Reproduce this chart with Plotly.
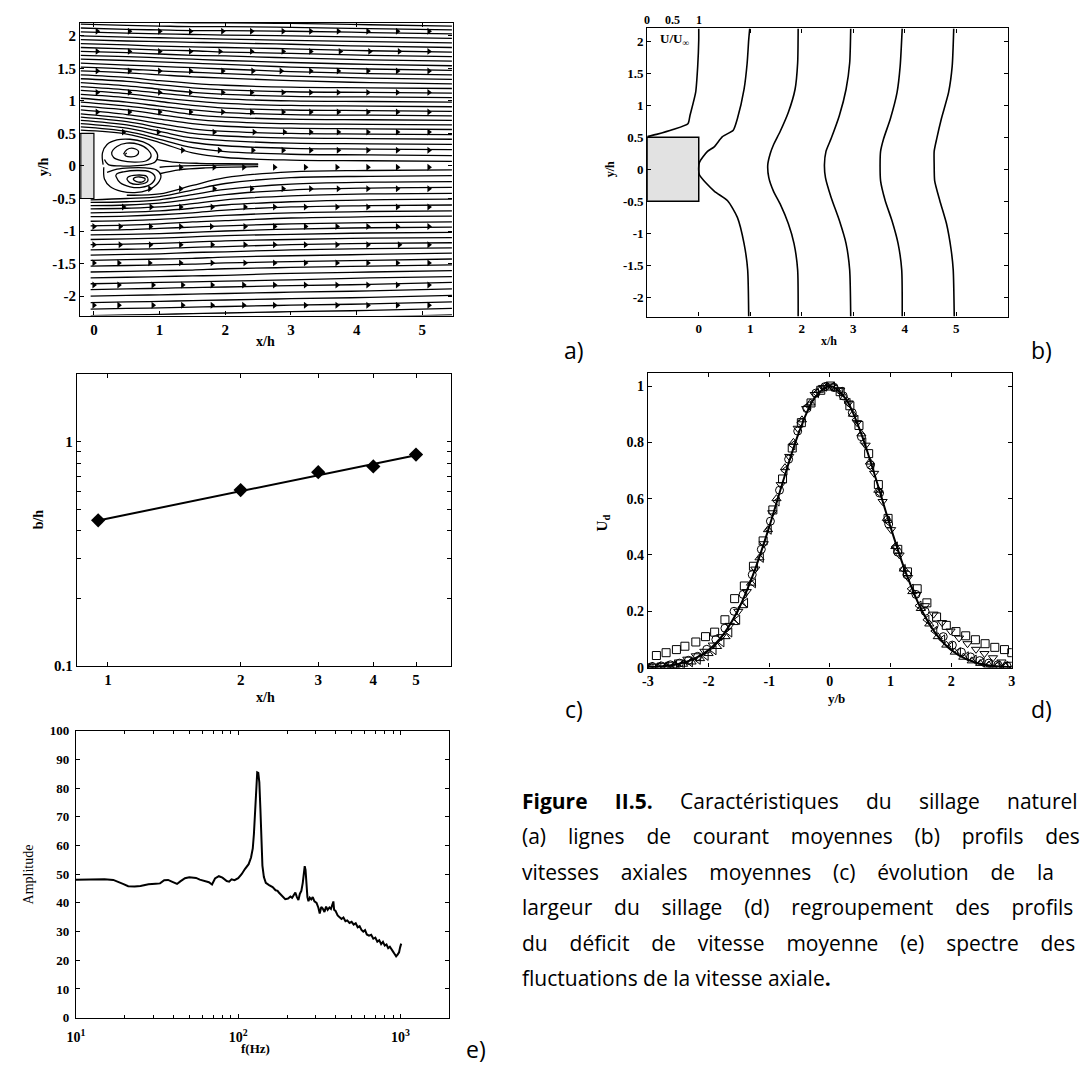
import plotly.graph_objects as go

# ===================== DATA =====================
# ---- panel a : mean streamlines (y/h read at fixed x/h stations) ----
XS_UP = [-0.2, 0.5, 1.0, 1.5, 2.0, 3.0, 4.2, 5.45]
Y_UP = [
    [0.55, 0.49, 0.36, 0.20, 0.13, 0.09, 0.08, 0.07],
    [0.60, 0.53, 0.41, 0.28, 0.22, 0.18, 0.17, 0.16],
    [0.65, 0.58, 0.47, 0.36, 0.31, 0.27, 0.26, 0.25],
    [0.70, 0.63, 0.53, 0.43, 0.39, 0.35, 0.34, 0.33],
    [0.75, 0.68, 0.59, 0.50, 0.46, 0.43, 0.42, 0.41],
    [0.80, 0.73, 0.65, 0.57, 0.53, 0.50, 0.49, 0.48],
    [0.86, 0.79, 0.72, 0.65, 0.61, 0.58, 0.57, 0.56],
    [0.92, 0.86, 0.79, 0.72, 0.68, 0.65, 0.64, 0.63],
    [0.98, 0.92, 0.86, 0.79, 0.75, 0.72, 0.71, 0.70],
    [1.04, 0.98, 0.92, 0.86, 0.82, 0.79, 0.78, 0.77],
    [1.10, 1.05, 0.99, 0.93, 0.89, 0.86, 0.85, 0.84],
    [1.16, 1.11, 1.05, 1.00, 0.96, 0.93, 0.92, 0.91],
    [1.22, 1.17, 1.12, 1.07, 1.03, 1.00, 0.99, 0.98],
    [1.28, 1.23, 1.18, 1.13, 1.10, 1.07, 1.06, 1.05],
    [1.34, 1.30, 1.25, 1.20, 1.17, 1.14, 1.13, 1.12],
    [1.40, 1.36, 1.31, 1.27, 1.24, 1.21, 1.20, 1.19],
    [1.46, 1.43, 1.40, 1.37, 1.35, 1.31, 1.28, 1.26],
    [1.52, 1.49, 1.46, 1.44, 1.42, 1.38, 1.35, 1.33],
    [1.58, 1.55, 1.53, 1.51, 1.49, 1.45, 1.42, 1.40],
    [1.64, 1.62, 1.60, 1.58, 1.56, 1.52, 1.49, 1.47],
    [1.70, 1.68, 1.66, 1.64, 1.62, 1.59, 1.56, 1.54],
    [1.76, 1.74, 1.72, 1.70, 1.69, 1.66, 1.63, 1.61],
    [1.82, 1.80, 1.78, 1.77, 1.75, 1.73, 1.70, 1.68],
    [1.88, 1.86, 1.84, 1.83, 1.82, 1.80, 1.77, 1.75],
    [1.94, 1.92, 1.91, 1.90, 1.89, 1.87, 1.84, 1.82],
    [2.00, 1.98, 1.97, 1.96, 1.95, 1.93, 1.91, 1.89],
    [2.06, 2.04, 2.03, 2.02, 2.01, 2.00, 1.98, 1.96],
    [2.12, 2.10, 2.09, 2.08, 2.08, 2.07, 2.05, 2.03],
    [2.18, 2.16, 2.15, 2.14, 2.14, 2.13, 2.11, 2.09],
    [2.24, 2.22, 2.21, 2.20, 2.20, 2.19, 2.17, 2.15],
    [2.30, 2.28, 2.27, 2.26, 2.26, 2.25, 2.23, 2.21],
    [2.36, 2.34, 2.33, 2.32, 2.32, 2.31, 2.29, 2.27],
]
XS_LO = [-0.05, 0.5, 1.0, 1.5, 2.0, 3.0, 4.2, 5.45]
Y_LO = [
    [None, -0.45, -0.43, -0.30, -0.18, -0.09, -0.07, -0.06],
    [-0.52, -0.50, -0.47, -0.37, -0.27, -0.18, -0.16, -0.15],
    [-0.56, -0.55, -0.52, -0.44, -0.36, -0.28, -0.25, -0.24],
    [-0.61, -0.60, -0.57, -0.51, -0.44, -0.37, -0.34, -0.33],
    [-0.66, -0.65, -0.63, -0.58, -0.52, -0.46, -0.43, -0.42],
    [-0.72, -0.71, -0.69, -0.65, -0.60, -0.55, -0.52, -0.51],
    [-0.78, -0.77, -0.75, -0.72, -0.68, -0.63, -0.61, -0.60],
    [-0.85, -0.84, -0.82, -0.79, -0.76, -0.72, -0.70, -0.69],
    [-0.92, -0.91, -0.89, -0.86, -0.84, -0.80, -0.78, -0.77],
    [-0.99, -0.98, -0.96, -0.94, -0.92, -0.89, -0.87, -0.86],
    [-1.06, -1.05, -1.04, -1.02, -1.00, -0.97, -0.95, -0.94],
    [-1.13, -1.12, -1.11, -1.09, -1.07, -1.05, -1.03, -1.02],
    [-1.21, -1.20, -1.19, -1.17, -1.15, -1.13, -1.11, -1.10],
    [-1.29, -1.28, -1.27, -1.25, -1.24, -1.21, -1.19, -1.18],
    [-1.37, -1.36, -1.35, -1.33, -1.32, -1.29, -1.27, -1.26],
    [-1.45, -1.44, -1.43, -1.42, -1.40, -1.38, -1.36, -1.34],
    [-1.54, -1.53, -1.52, -1.51, -1.49, -1.47, -1.45, -1.43],
    [-1.63, -1.62, -1.61, -1.60, -1.58, -1.56, -1.54, -1.52],
    [-1.72, -1.71, -1.70, -1.69, -1.68, -1.65, -1.63, -1.61],
    [-1.81, -1.80, -1.79, -1.78, -1.77, -1.75, -1.72, -1.70],
    [-1.90, -1.89, -1.88, -1.87, -1.86, -1.84, -1.82, -1.79],
    [-2.00, -1.99, -1.98, -1.97, -1.96, -1.94, -1.92, -1.89],
    [-2.10, -2.09, -2.08, -2.07, -2.06, -2.04, -2.02, -1.99],
    [-2.20, -2.19, -2.18, -2.17, -2.16, -2.14, -2.12, -2.09],
    [-2.30, -2.29, -2.28, -2.27, -2.26, -2.24, -2.22, -2.19],
    [-2.40, -2.39, -2.38, -2.37, -2.36, -2.34, -2.32, -2.29],
]
# short wake lines downstream of the bubble (x/h, y/h)
WAKE_X = [[0.95, 1.2, 1.6, 2.0, 2.5], [1.0, 1.3, 1.7, 2.1, 2.5], [1.0, 1.3, 1.7, 2.5]]
WAKE_Y = [[0.10, 0.06, 0.04, 0.035, 0.03], [-0.02, 0.0, 0.01, 0.015, 0.015], [-0.12, -0.06, -0.03, -0.01]]
# recirculation loops (x/h, y/h)
LOOP_X = [
    [0.14, 0.13, 0.20, 0.35, 0.55, 0.75, 0.90, 0.97, 0.93, 0.80, 0.60, 0.40, 0.22, 0.16],
    [0.27, 0.35, 0.50, 0.68, 0.82, 0.87, 0.80, 0.62, 0.42, 0.30, 0.27],
    [0.45, 0.50, 0.60, 0.68, 0.65, 0.55, 0.47, 0.50],
    [0.15, 0.16, 0.25, 0.42, 0.62, 0.82, 0.97, 1.02, 0.95, 0.78, 0.55, 0.35, 0.20],
    [0.33, 0.40, 0.55, 0.72, 0.88, 0.93, 0.85, 0.65, 0.45, 0.35, 0.33],
    [0.50, 0.55, 0.70, 0.82, 0.80, 0.65, 0.52, 0.50],
    [0.60, 0.65, 0.75, 0.78, 0.70, 0.62, 0.60],
]
LOOP_Y = [
    [0.02, 0.20, 0.33, 0.40, 0.41, 0.37, 0.28, 0.16, 0.06, 0.02, 0.00, 0.00, 0.02, 0.10],
    [0.20, 0.30, 0.35, 0.33, 0.25, 0.15, 0.08, 0.06, 0.08, 0.13, 0.20],
    [0.18, 0.25, 0.27, 0.22, 0.16, 0.14, 0.17, 0.20],
    [-0.02, -0.20, -0.32, -0.39, -0.41, -0.37, -0.27, -0.15, -0.06, -0.03, -0.03, -0.05, -0.10],
    [-0.15, -0.26, -0.32, -0.33, -0.27, -0.17, -0.09, -0.07, -0.09, -0.12, -0.16],
    [-0.20, -0.26, -0.28, -0.23, -0.16, -0.14, -0.17, -0.21],
    [-0.20, -0.24, -0.24, -0.20, -0.17, -0.18, -0.20],
]
# arrow heads : rows (y/h) and x/h positions
ARROW_ROW_Y = [2.07, 1.76, 1.46, 1.13, 0.83, 0.52, 0.24, -0.02, -0.35, -0.63, -0.93, -1.21, -1.49, -1.83, -2.14]
ARROW_ROW_X = [
    [0.05, 0.54, 1.0, 1.47, 1.96, 2.4, 2.88, 3.3, 3.72, 4.17, 4.62, 5.1],
    [0.05, 0.54, 1.0, 1.47, 1.92, 2.4, 2.88, 3.3, 3.75, 4.2, 4.65, 5.1],
    [0.05, 0.54, 1.0, 1.47, 1.96, 2.42, 2.85, 3.3, 3.72, 4.17, 4.62, 5.1],
    [0.05, 0.54, 1.0, 1.47, 1.96, 2.4, 2.88, 3.3, 3.72, 4.17, 4.62, 5.1],
    [0.05, 0.54, 1.0, 1.47, 1.96, 2.4, 2.88, 3.3, 3.72, 4.17, 4.62, 5.1],
    [0.45, 0.98, 1.83, 2.44, 2.9, 3.3, 3.72, 4.17, 4.62, 5.1],
    [1.35, 1.91, 2.42, 2.88, 3.3, 3.72, 4.17, 4.62, 5.1],
    [1.32, 1.83, 2.28, 2.75, 3.22, 3.7, 4.17, 4.62, 5.1],
    [0.85, 1.32, 1.83, 2.4, 2.88, 3.3, 3.72, 4.17, 4.62, 5.1],
    [0.45, 0.87, 1.32, 1.8, 2.3, 2.75, 3.22, 3.7, 4.17, 4.62, 5.1],
    [0.0, 0.4, 0.86, 1.32, 1.79, 2.3, 2.75, 3.22, 3.7, 4.17, 4.62, 5.1],
    [0.0, 0.4, 0.86, 1.32, 1.8, 2.3, 2.75, 3.22, 3.7, 4.17, 4.65, 5.1],
    [0.0, 0.38, 0.85, 1.32, 1.8, 2.3, 2.75, 3.22, 3.7, 4.17, 4.62, 5.1],
    [0.0, 0.38, 0.9, 1.35, 1.8, 2.28, 2.75, 3.22, 3.7, 4.17, 4.62, 5.1],
    [0.0, 0.38, 0.9, 1.35, 1.8, 2.28, 2.75, 3.22, 3.7, 4.17, 4.62, 5.1],
]
BLOCK_A_X = [-0.2, 0.0]
BLOCK_Y = [-0.5, 0.5]

# ---- panel b : axial velocity profiles (x = station offset + U/Uinf) ----
PROF_X = [
    [-1.0, -0.82, -0.5, -0.21, -0.17, -0.06, -0.02, 0.0, 0.0],
    [0.99, 0.97, 0.94, 0.88, 0.75, 0.67, 0.46, 0.30, 0.17, 0.01, 0.01, 0.30, 0.56, 0.75, 0.88, 0.95, 0.97],
    [1.93, 1.92, 1.87, 1.74, 1.58, 1.45, 1.39, 1.34, 1.36, 1.45, 1.58, 1.74, 1.85, 1.92, 1.93],
    [2.95, 2.93, 2.86, 2.73, 2.57, 2.47, 2.44, 2.46, 2.57, 2.73, 2.86, 2.93, 2.95],
    [3.95, 3.91, 3.85, 3.72, 3.59, 3.53, 3.52, 3.53, 3.62, 3.75, 3.87, 3.94, 3.95],
    [4.95, 4.92, 4.85, 4.71, 4.62, 4.57, 4.57, 4.58, 4.68, 4.81, 4.90, 4.94, 4.96],
]
PROF_Y = [
    [0.51, 0.545, 0.62, 0.71, 0.84, 1.2, 1.61, 2.02, 2.2],
    [2.2, 2.02, 1.66, 1.25, 0.79, 0.61, 0.51, 0.35, 0.28, 0.1, -0.08, -0.34, -0.49, -0.75, -1.16, -1.57, -2.3],
    [2.2, 1.66, 1.25, 0.89, 0.59, 0.38, 0.25, 0.07, -0.13, -0.34, -0.54, -0.85, -1.16, -1.57, -2.3],
    [2.2, 1.66, 1.25, 0.84, 0.48, 0.28, 0.07, -0.13, -0.44, -0.8, -1.16, -1.57, -2.3],
    [2.2, 1.61, 1.2, 0.79, 0.48, 0.28, 0.07, -0.18, -0.49, -0.8, -1.16, -1.57, -2.3],
    [2.2, 1.61, 1.2, 0.79, 0.48, 0.28, 0.07, -0.18, -0.49, -0.85, -1.26, -1.57, -2.3],
]
BLOCK_B_X = [-1.0, 0.0]

# ---- panel c : wake half-width ----
C_X = [0.95, 2, 3, 4, 5]
C_B = [0.446, 0.608, 0.731, 0.775, 0.875]
FIT_X = [0.95, 5]
FIT_B = [0.445, 0.87]

# ---- panel d : self-similar velocity deficit ----
D_SQ_ETA = [-2.86, -2.70, -2.53, -2.39, -2.21, -2.05, -1.90, -1.73, -1.57, -1.41, -1.26, -1.10, -0.94, -0.78, -0.62, -0.47, -0.31, -0.15, 0.01, 0.17, 0.33, 0.48, 0.64, 0.80, 0.96, 1.12, 1.28, 1.44, 1.60, 1.76, 1.92, 2.08, 2.24, 2.40, 2.56, 2.72, 2.88, 3.0]
D_SQ_U = [0.043, 0.053, 0.064, 0.076, 0.091, 0.11, 0.126, 0.17, 0.245, 0.29, 0.36, 0.45, 0.56, 0.67, 0.78, 0.87, 0.94, 0.985, 1.0, 0.98, 0.93, 0.86, 0.76, 0.65, 0.53, 0.42, 0.34, 0.28, 0.23, 0.18, 0.15, 0.128, 0.113, 0.099, 0.085, 0.072, 0.064, 0.053]
D_CI_ETA = [-2.93, -2.78, -2.63, -2.48, -2.33, -2.18, -2.03, -1.88, -1.73, -1.58, -1.43, -1.28, -1.13, -0.98, -0.83, -0.68, -0.53, -0.38, -0.23, -0.08, 0.07, 0.22, 0.37, 0.52, 0.67, 0.82, 0.97, 1.12, 1.27, 1.42, 1.57, 1.72, 1.87, 2.02, 2.17, 2.32, 2.47, 2.62, 2.77, 2.92]
D_CI_U = [0.004, 0.006, 0.01, 0.016, 0.026, 0.04, 0.065, 0.1, 0.14, 0.2, 0.26, 0.33, 0.42, 0.52, 0.63, 0.74, 0.84, 0.92, 0.975, 0.998, 0.995, 0.965, 0.905, 0.82, 0.72, 0.62, 0.51, 0.41, 0.33, 0.26, 0.2, 0.15, 0.11, 0.08, 0.055, 0.038, 0.025, 0.016, 0.01, 0.006]
D_TU_ETA = [-2.98, -2.84, -2.70, -2.56, -2.42, -2.28, -2.14, -2.00, -1.86, -1.72, -1.58, -1.44, -1.30, -1.16, -1.02, -0.88, -0.74, -0.60, -0.46, -0.32, -0.18, -0.04, 0.10, 0.24, 0.38, 0.52, 0.66, 0.80, 0.94, 1.08, 1.22, 1.36, 1.50, 1.64, 1.78, 1.92, 2.06, 2.20, 2.34, 2.48, 2.62, 2.76, 2.90]
D_TU_U = [0.002, 0.003, 0.005, 0.008, 0.012, 0.02, 0.032, 0.05, 0.075, 0.11, 0.16, 0.22, 0.3, 0.39, 0.49, 0.6, 0.71, 0.8, 0.88, 0.94, 0.985, 1.0, 0.99, 0.96, 0.9, 0.83, 0.73, 0.63, 0.53, 0.43, 0.35, 0.27, 0.21, 0.155, 0.11, 0.08, 0.055, 0.037, 0.024, 0.015, 0.009, 0.005, 0.003]
D_TD_ETA = [-2.91, -2.77, -2.63, -2.49, -2.35, -2.21, -2.07, -1.93, -1.79, -1.65, -1.51, -1.37, -1.23, -1.09, -0.95, -0.81, -0.67, -0.53, -0.39, -0.25, -0.11, 0.03, 0.17, 0.31, 0.45, 0.59, 0.73, 0.87, 1.01, 1.15, 1.29, 1.43, 1.57, 1.71, 1.85, 1.99, 2.13, 2.27, 2.41, 2.55, 2.69, 2.83, 2.97]
D_TD_U = [0.005, 0.008, 0.012, 0.02, 0.03, 0.042, 0.058, 0.08, 0.11, 0.15, 0.2, 0.27, 0.35, 0.44, 0.55, 0.65, 0.75, 0.85, 0.92, 0.97, 0.995, 1.0, 0.985, 0.94, 0.87, 0.79, 0.69, 0.59, 0.49, 0.4, 0.32, 0.26, 0.22, 0.19, 0.16, 0.13, 0.105, 0.085, 0.065, 0.05, 0.035, 0.02, 0.012]
D_TL_ETA = [-2.95, -2.82, -2.69, -2.56, -2.43, -2.30, -2.17, -2.04, -1.91, -1.78, -1.65, -1.52, -1.39, -1.26, -1.13, -1.00, -0.87, -0.74, -0.61, -0.48, -0.35, -0.22, -0.09, 0.04, 0.17, 0.30, 0.43, 0.56, 0.69, 0.82, 0.95, 1.08, 1.21, 1.34, 1.47, 1.60, 1.73, 1.86, 1.99, 2.12, 2.25, 2.38, 2.51, 2.64, 2.77, 2.90]
D_TL_U = [0.003, 0.004, 0.006, 0.009, 0.013, 0.019, 0.028, 0.042, 0.062, 0.09, 0.125, 0.17, 0.23, 0.3, 0.39, 0.49, 0.59, 0.7, 0.79, 0.87, 0.93, 0.975, 0.998, 0.998, 0.98, 0.94, 0.88, 0.8, 0.71, 0.62, 0.52, 0.43, 0.35, 0.28, 0.22, 0.17, 0.13, 0.1, 0.075, 0.055, 0.04, 0.028, 0.018, 0.012, 0.008, 0.005]
G_ETA = [-3.0, -2.75, -2.5, -2.25, -2.0, -1.75, -1.5, -1.25, -1.0, -0.75, -0.5, -0.25, 0.0, 0.25, 0.5, 0.75, 1.0, 1.25, 1.5, 1.75, 2.0, 2.25, 2.5, 2.75, 3.0]
G_U = [0.002, 0.005, 0.013, 0.030, 0.0625, 0.12, 0.21, 0.339, 0.5, 0.677, 0.841, 0.958, 1.0, 0.958, 0.841, 0.677, 0.5, 0.339, 0.21, 0.12, 0.0625, 0.030, 0.013, 0.005, 0.002]

# ---- panel e : spectrum ----
E_F = [10, 12, 15, 17, 18, 19.5, 21, 23, 25, 28, 31, 33, 35, 37, 39, 42, 44, 47, 50, 55, 58, 62, 66, 69, 72, 76, 80, 85, 88, 91, 95, 100,
       105, 110, 116, 120, 123, 125, 127, 129, 131, 133, 135, 137, 139, 141, 144, 148, 155, 163, 170, 175, 178, 183, 188, 195,
       203, 210, 215, 220, 225, 230, 235, 240, 245, 250, 254, 257, 260, 263, 267, 271, 276, 282, 288, 295, 304, 312, 318, 325,
       332, 340, 348, 356, 365, 373, 380, 386, 390, 398, 410, 422, 433, 445, 458, 470, 485, 500, 515, 530, 545, 560, 575, 590,
       605, 620, 640, 660, 680, 700, 720, 740, 760, 780, 800, 820, 840, 860, 880, 900, 920, 940, 960, 980, 995, 1010]
E_A = [48.1, 48.2, 48.2, 48.0, 47.5, 46.6, 45.8, 45.7, 45.9, 46.5, 46.7, 46.8, 47.9, 48.0, 47.4, 46.6, 47.5, 48.6, 48.9, 48.7, 48.1, 47.6, 47.2, 46.4, 48.5, 49.3, 48.8, 47.6, 47.4, 48.2, 47.9, 48.6,
       50.0, 51.8, 53.5, 55.8, 59.0, 64.0, 72.0, 81.0, 85.5, 85.3, 82.0, 73.0, 62.0, 53.0, 49.0, 47.0, 46.2, 45.5, 44.4, 44.2, 43.6, 42.9, 42.4, 41.3,
       41.5, 42.2, 41.8, 42.6, 43.6, 42.0, 41.0, 43.2, 44.2, 47.0, 51.0, 52.8, 51.5, 47.5, 42.0, 40.6, 41.8, 41.2, 42.0, 40.5, 40.0, 38.3, 36.3, 38.6,
       38.0, 36.8, 38.7, 37.6, 38.4, 37.9, 39.2, 40.5, 37.6, 37.2, 35.6, 35.0, 34.4, 34.9, 33.6, 33.9, 33.0, 33.4, 32.4, 32.9, 31.5, 31.9, 30.6, 30.0,
       30.5, 29.0, 28.6, 28.9, 27.5, 27.9, 26.5, 27.0, 25.6, 26.4, 25.1, 25.5, 24.2, 24.7, 23.6, 23.0, 22.2, 21.4, 22.0, 22.8, 24.5, 25.8]

# caption, one list of words per printed line (justified lines, last line ragged)
CAPTION_WORDS = [
    ["<b>Figure</b>", "<b>II.5.</b>", "Caractéristiques", "du", "sillage", "naturel"],
    ["(a)", "lignes", "de", "courant", "moyennes", "(b)", "profils", "des"],
    ["vitesses", "axiales", "moyennes", "(c)", "évolution", "de", "la"],
    ["largeur", "du", "sillage", "(d)", "regroupement", "des", "profils"],
    ["du", "déficit", "de", "vitesse", "moyenne", "(e)", "spectre", "des"],
    ["fluctuations", "de", "la", "vitesse", "axiale<b>.</b>"],
]
CAPTION_GAP = [5, 4, 4, 4, 4, 1]   # spaces between words (justification)

# ===================== FIGURE =====================
W, H = 1080, 1072
SERIF = "Liberation Serif"
BLACK = "black"


def px(xp):
    return xp / W


def py(yp):
    return 1 - yp / H


def join(xs_list, ys_list):
    X, Y = [], []
    for xs, ys in zip(xs_list, ys_list):
        X += list(xs) + [None]
        Y += list(ys) + [None]
    return X, Y


def bold(lst):
    return ["<b>%s</b>" % t for t in lst]


fig = go.Figure()

# ---- panel a ----
xu, yu = join([XS_UP] * len(Y_UP), Y_UP)
xl, yl = join([XS_LO] * len(Y_LO), Y_LO)
xw, yw = join(WAKE_X, WAKE_Y)
xv, yv = join(LOOP_X, LOOP_Y)
for X, Y in [(xu, yu), (xl, yl), (xw, yw), (xv, yv)]:
    fig.add_trace(go.Scatter(x=X, y=Y, mode="lines", xaxis="x", yaxis="y",
                             line=dict(color="black", width=1.3, shape="spline", smoothing=1.0),
                             hoverinfo="skip", showlegend=False))
ax_x, ax_y = [], []
for yr, xr in zip(ARROW_ROW_Y, ARROW_ROW_X):
    ax_x += xr
    ax_y += [yr] * len(xr)
fig.add_trace(go.Scatter(x=ax_x, y=ax_y, mode="markers", xaxis="x", yaxis="y",
                         marker=dict(symbol="triangle-right", size=6, color="black"),
                         hoverinfo="skip", showlegend=False))
fig.add_trace(go.Scatter(x=[BLOCK_A_X[0], BLOCK_A_X[1], BLOCK_A_X[1], BLOCK_A_X[0], BLOCK_A_X[0]],
                         y=[BLOCK_Y[0], BLOCK_Y[0], BLOCK_Y[1], BLOCK_Y[1], BLOCK_Y[0]],
                         mode="lines", fill="toself", fillcolor="#e2e2e2", xaxis="x", yaxis="y",
                         line=dict(color=BLACK, width=1.2), hoverinfo="skip", showlegend=False))

# ---- panel b ----
fig.add_trace(go.Scatter(x=[BLOCK_B_X[0], BLOCK_B_X[1], BLOCK_B_X[1], BLOCK_B_X[0], BLOCK_B_X[0]],
                         y=[BLOCK_Y[0], BLOCK_Y[0], BLOCK_Y[1], BLOCK_Y[1], BLOCK_Y[0]],
                         mode="lines", fill="toself", fillcolor="#e2e2e2", xaxis="x2", yaxis="y2",
                         line=dict(color=BLACK, width=1.5), hoverinfo="skip", showlegend=False))
for xs, ys in zip(PROF_X, PROF_Y):
    fig.add_trace(go.Scatter(x=xs, y=ys, mode="lines", xaxis="x2", yaxis="y2",
                             line=dict(color=BLACK, width=1.6, shape="spline", smoothing=0.6),
                             hoverinfo="skip", showlegend=False))

# ---- panel c ----
fig.add_trace(go.Scatter(x=FIT_X, y=FIT_B, mode="lines", xaxis="x3", yaxis="y3",
                         line=dict(color=BLACK, width=2), showlegend=False))
fig.add_trace(go.Scatter(x=C_X, y=C_B, mode="markers", xaxis="x3", yaxis="y3",
                         marker=dict(symbol="diamond", size=11, color=BLACK), showlegend=False))

# ---- panel d ----
for eta, u, sym in [(D_SQ_ETA, D_SQ_U, "square-open"), (D_CI_ETA, D_CI_U, "circle-open"),
                    (D_TU_ETA, D_TU_U, "triangle-up-open"), (D_TD_ETA, D_TD_U, "triangle-down-open"),
                    (D_TL_ETA, D_TL_U, "triangle-left-open")]:
    fig.add_trace(go.Scatter(x=eta, y=u, mode="markers", xaxis="x4", yaxis="y4",
                             marker=dict(symbol=sym, size=8, color=BLACK, line=dict(width=1, color=BLACK)),
                             showlegend=False))
fig.add_trace(go.Scatter(x=G_ETA, y=G_U, mode="lines", xaxis="x4", yaxis="y4",
                         line=dict(color=BLACK, width=2, shape="spline"), showlegend=False))

# ---- panel e ----
fig.add_trace(go.Scatter(x=E_F, y=E_A, mode="lines", xaxis="x5", yaxis="y5",
                         line=dict(color=BLACK, width=2), showlegend=False))

# ===================== AXES =====================
TF = dict(family=SERIF, size=13, color=BLACK)


def axis(domain, rng, anchor, size, **kw):
    d = dict(domain=domain, range=rng, anchor=anchor, showline=True, linecolor=BLACK, linewidth=1.3,
             mirror="ticks", ticks="inside", ticklen=4, tickwidth=1.2, tickcolor=BLACK,
             showgrid=False, zeroline=False, tickfont=dict(TF, size=size), tickmode="array")
    d.update(kw)
    return d


ya_vals = [-2, -1.5, -1, -0.5, 0, 0.5, 1, 1.5, 2]
ya_text = bold(["-2", "-1.5", "-1", "-0.5", "0", "0.5", "1", "1.5", "2"])
x05 = [0, 1, 2, 3, 4, 5]
x05t = bold(["0", "1", "2", "3", "4", "5"])
MINOR = dict(ticks="inside", ticklen=4, tickwidth=1.1, tickcolor=BLACK, showgrid=False)

layout = dict(
    width=W, height=H, margin=dict(l=0, r=0, t=0, b=0), autosize=False,
    paper_bgcolor="white", plot_bgcolor="white", showlegend=False,
    xaxis=axis([px(72), px(449)], [-0.21, 5.46], "y", 15, tickvals=x05, ticktext=x05t),
    yaxis=axis([py(313), py(16)], [-2.3, 2.2], "x", 15, tickvals=ya_vals, ticktext=ya_text),
    xaxis2=axis([px(646), px(1011)], [-1, 6], "y2", 13, tickvals=x05, ticktext=x05t),
    yaxis2=axis([py(314), py(21.7)], [-2.3, 2.2], "x2", 13, tickvals=ya_vals, ticktext=ya_text),
    xaxis3=axis([px(68.7), px(447.3)], [-0.0706, 0.7782], "y3", 15, type="log", tickvals=[1, 2, 3, 4, 5],
                ticktext=bold(["1", "2", "3", "4", "5"])),
    yaxis3=axis([py(668.3), py(372.3)], [-1, 0.301], "x3", 15, type="log",
                tickvals=[0.1, 1], ticktext=bold(["0.1", "1"]),
                minor=dict(MINOR, tickmode="array", tickvals=[0.2, 0.3, 0.4, 0.5, 0.6, 0.7, 0.8, 0.9])),
    xaxis4=axis([px(646.7), px(1015)], [-3, 3], "y4", 14, tickvals=[-3, -2, -1, 0, 1, 2, 3],
                ticktext=bold(["-3", "-2", "-1", "0", "1", "2", "3"])),
    yaxis4=axis([py(670), py(371)], [0, 1.047], "x4", 14, tickvals=[0, 0.2, 0.4, 0.6, 0.8, 1],
                ticktext=bold(["0", "0.2", "0.4", "0.6", "0.8", "1"])),
    xaxis5=axis([px(67.7), px(445.7)], [1, 3.301], "y5", 14, type="log",
                tickvals=[10, 100, 1000],
                ticktext=["<b>10<sup>1</sup></b>", "<b>10<sup>2</sup></b>", "<b>10<sup>3</sup></b>"],
                ticklabelstandoff=6,
                minor=dict(MINOR, ticklen=3, tickmode="array",
                           tickvals=[20, 30, 40, 50, 60, 70, 80, 90, 200, 300, 400, 500, 600, 700, 800, 900])),
    yaxis5=axis([py(1025), py(734)], [0, 100], "x5", 13, tickvals=list(range(0, 101, 10)),
                ticktext=bold([str(v) for v in range(0, 101, 10)]), ticklabelstandoff=3),
)
fig.update_layout(**layout)

# ===================== TEXT =====================
ann = []


def label(text, x, y, size=13, angle=0, family=SERIF, xanchor="center"):
    ann.append(dict(text=text, x=px(x), y=py(y), xref="paper", yref="paper", showarrow=False,
                    xanchor=xanchor, yanchor="middle", textangle=angle,
                    font=dict(family=family, size=size, color=BLACK)))


label("<b>x/h</b>", 260, 339, 14)
label("<b>y/h</b>", 35, 162, 14, angle=-90)
label("<b>x/h</b>", 830, 339, 12)
label("<b>y/h</b>", 608, 165, 12, angle=-90)
label("<b>b/h</b>", 30, 520, 14, angle=-90)
label("<b>x/h</b>", 260, 700, 14)
label("<b>U<sub>d</sub></b>", 601, 523, 15, angle=-90)
label("<b>y/b</b>", 838, 701, 13)
label("<b>f(Hz)</b>", 250, 1056, 13)
label("Amplitude", 20, 880, 14, angle=-90)
# top scale of panel b
for v, t in zip([-1, -0.5, 0], ["0", "0.5", "1"]):
    ann.append(dict(text="<b>%s</b>" % t, x=v, y=py(13), xref="x2", yref="paper", showarrow=False,
                    xanchor="center", yanchor="middle", font=dict(family=SERIF, size=12, color=BLACK)))
ann.append(dict(text="<b>U/U<sub>∞</sub></b>", x=-0.47, y=2.02, xref="x2", yref="y2", showarrow=False,
                xanchor="center", yanchor="middle", font=dict(family=SERIF, size=13, color=BLACK)))

SANS = "Open Sans"
for t, x, y in [("a)", 572, 348), ("b)", 1045, 348), ("c)", 572, 712), ("d)", 1045, 712), ("e)", 473, 1057)]:
    label(t, x, y, size=23, family=SANS)
for i, (words, gap) in enumerate(zip(CAPTION_WORDS, CAPTION_GAP)):
    sep = " " + "\u00a0" * (gap - 1)
    label(sep.join(words), 517, 805 + 36 * i, size=21, family=SANS, xanchor="left")

fig.update_layout(annotations=ann)
fig.write_html("out.html")
